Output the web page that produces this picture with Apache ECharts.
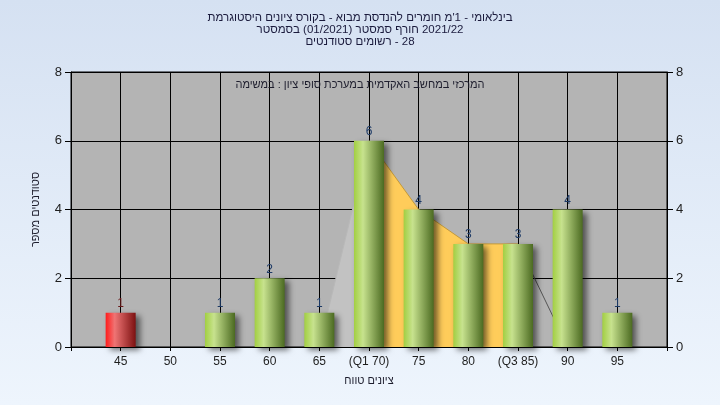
<!DOCTYPE html>
<html><head><meta charset="utf-8">
<script src="https://cdn.jsdelivr.net/npm/echarts@6/dist/echarts.min.js"></script>
<style>html,body{margin:0;padding:0;}#c{width:720px;height:405px;}</style>
</head><body><div id="c"></div>
<script>
// ---- data ----
const categories = ['', '45', '50', '55', '60', '65', '(Q1 70)', '75', '80', '(Q3 85)', '90', '95', ''];
const counts = [null, 1, 0, 1, 2, 1, 6, 4, 3, 3, 4, 1, null];
const failingCats = ['45'];
const interQuartile = [null, null, null, null, null, null, 6, 4, 3, 3, null, null, null];
const lowerTail = [null, null, null, null, null, 0, 6, null, null, null, null, null, null];
const upperTail = [null, null, null, null, null, null, null, null, null, 3, 0, null, null];
const yTicks = { min: 0, max: 8, interval: 2 };
const titleLines = [
  "היסטוגרמת ציונים בקורס - מבוא להנדסת חומרים מ'1 - בינלאומי",
  "בסמסטר (01/2021) סמסטר חורף 2021/22",
  "סטודנטים רשומים - 28"
];
const noteText = "במשימה : ציון סופי במערכת האקדמית במחשב המרכזי";
const xName = "טווח ציונים";
const yName = "מספר סטודנטים";

// lay Hebrew words out left-to-right, as the reference does
function ltr(s) {
  return s.split('\n').map(line =>
    '\u200E' + line.replace(/([^\u0590-\u05FF]+)/g, '\u200E$1\u200E')
  ).join('\n');
}

const FONT = "'Liberation Sans', 'DejaVu Sans', Arial, sans-serif";
const greenGrad = { type: 'linear', x: 0, y: 0, x2: 1, y2: 0, colorStops: [
  { offset: 0, color: '#a2cf42' }, { offset: 0.3, color: '#c7e28e' }, { offset: 1, color: '#4b6a21' }] };
const redGrad = { type: 'linear', x: 0, y: 0, x2: 1, y2: 0, colorStops: [
  { offset: 0, color: '#ff1c1c' }, { offset: 0.3, color: '#ef7474' }, { offset: 1, color: '#7c1111' }] };

const barData = counts.map((v, i) => {
  if (v === null) return null;
  const fail = failingCats.includes(categories[i]);
  return {
    value: v,
    itemStyle: { color: fail ? redGrad : greenGrad },
    label: { color: fail ? '#6a1a1a' : '#1d3a66' }
  };
});

const chart = echarts.init(document.getElementById('c'), null, { renderer: 'canvas' });
chart.setOption({
  animation: false,
  backgroundColor: { type: 'linear', x: 0, y: 0, x2: 0, y2: 1, colorStops: [
    { offset: 0, color: '#d5e1f2' }, { offset: 1, color: '#eef5fd' }] },
  textStyle: { fontFamily: FONT },
  graphic: [
    { type: 'text', left: 'center', top: 12, style: {
      text: ltr(titleLines.join('\n')), font: '11.5px ' + FONT, fill: '#1a1a3c',
      textAlign: 'center', lineHeight: 12 } },
    { type: 'text', left: 'center', top: 79, z: 10, style: {
      text: ltr(noteText), font: '11px ' + FONT, fill: '#1e1e2e', textAlign: 'center' } }
  ],
  grid: { left: 71, right: 53, top: 72, bottom: 58, show: true, backgroundColor: '#b4b4b4', borderColor: '#000', borderWidth: 1 },
  xAxis: {
    type: 'category', data: categories, boundaryGap: false,
    name: ltr(xName), nameLocation: 'middle', nameGap: 28,
    nameTextStyle: { color: '#1e1e2e', fontSize: 11, fontFamily: FONT },
    axisLine: { lineStyle: { color: '#000', width: 1 } },
    axisTick: { show: true, length: 4, interval: 0, lineStyle: { color: '#000' } },
    axisLabel: { interval: 0, color: '#1e1e1e', fontSize: 12, margin: 9, fontFamily: FONT },
    splitLine: { show: true, interval: 0, lineStyle: { color: '#000', width: 1 } }
  },
  yAxis: [
    { type: 'value', min: yTicks.min, max: yTicks.max, interval: yTicks.interval, position: 'left',
      name: ltr(yName), nameLocation: 'middle', nameGap: 30,
      nameTextStyle: { color: '#1e1e2e', fontSize: 11, fontFamily: FONT },
      axisLine: { show: true, lineStyle: { color: '#000' } },
      axisTick: { show: true, length: 6, lineStyle: { color: '#000' } },
      axisLabel: { color: '#1e1e1e', fontSize: 13, margin: 9, fontFamily: FONT },
      splitLine: { show: true, lineStyle: { color: '#000', width: 1 } } },
    { type: 'value', min: yTicks.min, max: yTicks.max, interval: yTicks.interval, position: 'right',
      axisLine: { show: true, lineStyle: { color: '#000' } },
      axisTick: { show: true, length: 6, lineStyle: { color: '#000' } },
      axisLabel: { color: '#1e1e1e', fontSize: 13, margin: 9, fontFamily: FONT },
      splitLine: { show: false } }
  ],
  series: [
    { type: 'line', data: lowerTail, z: 1, symbol: 'none', silent: true,
      lineStyle: { color: '#b8b8b8', width: 1 }, areaStyle: { color: '#c2c2c2', opacity: 1 } },
    { type: 'line', data: interQuartile, z: 1, symbol: 'none', silent: true,
      lineStyle: { color: '#c49a3a', width: 1 }, areaStyle: { color: '#ffcc5a', opacity: 1 } },
    { type: 'line', data: upperTail, z: 1, symbol: 'none', silent: true,
      lineStyle: { color: '#555', width: 1 } },
    { type: 'bar', data: barData, barWidth: 30, z: 3,
      itemStyle: { shadowColor: 'rgba(0,0,0,0.55)', shadowBlur: 6, shadowOffsetX: 4, shadowOffsetY: 3 },
      label: { show: true, position: 'top', distance: 3, fontSize: 12, fontFamily: FONT,
        formatter: p => (p.value ? String(p.value) : '') } }
  ]
});
</script></body></html>
